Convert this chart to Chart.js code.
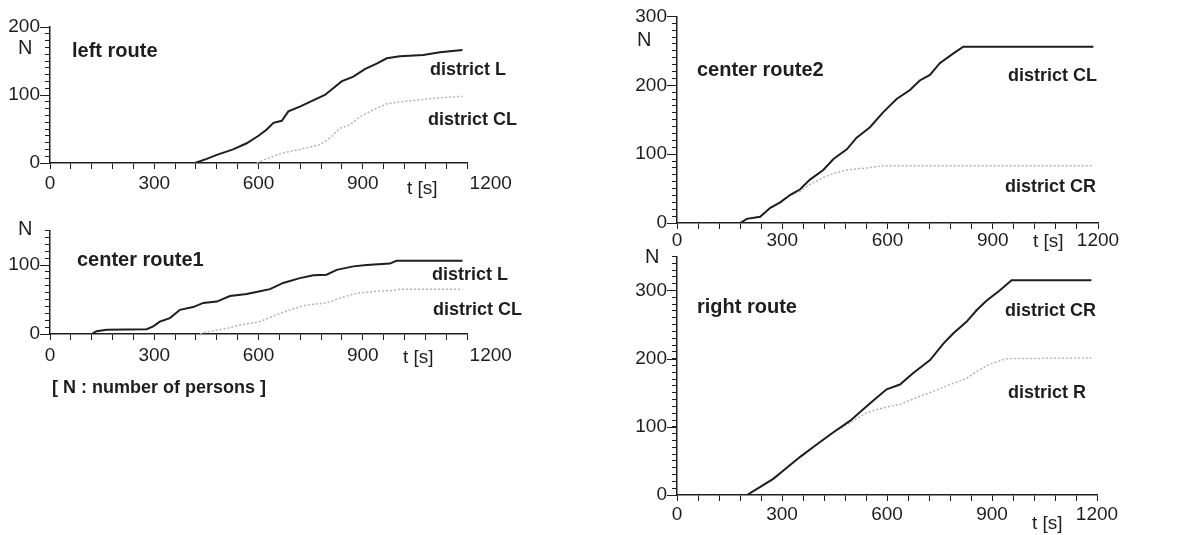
<!DOCTYPE html>
<html>
<head>
<meta charset="utf-8">
<script src="https://cdn.jsdelivr.net/npm/chart.js@4.4.1/dist/chart.umd.min.js"></script>
<style>
    body { margin: 0; background: #fff; }
    #wrap { position: relative; width: 1195px; height: 535px; background: #fff; }
    #wrap canvas { position: absolute; }
</style>
</head>
<body>
<div id="wrap">
    <canvas id="leftRoute" width="600" height="200" style="left:0;top:0"></canvas>
    <canvas id="centerRoute1" width="600" height="200" style="left:0;top:200px"></canvas>
    <canvas id="centerRoute2" width="595" height="260" style="left:600px;top:0"></canvas>
    <canvas id="rightRoute" width="595" height="295" style="left:600px;top:240px"></canvas>
</div>
<script>
// x axis: time in seconds, ticks every 60 s, labels every 300 s
var timeTicks = [0, 300, 600, 900, 1200];

// left route
var leftL_t = [417, 451, 480, 527, 566, 600, 623, 643, 667, 686, 719, 748, 791, 815, 839, 873, 906, 940, 969, 1007, 1074, 1122, 1187];
var leftL_n = [0, 6, 12, 20, 29, 40, 49, 59, 62, 76, 83, 90, 100, 110, 120, 127, 138, 146, 154, 157, 159, 163, 166];
var leftCL_t = [595, 623, 671, 719, 777, 806, 834, 863, 892, 930, 969, 1007, 1065, 1122, 1187];
var leftCL_n = [0, 6, 15, 20, 27, 37, 51, 56, 68, 78, 87, 90, 93, 96, 98];

// center route1
var center1L_t = [120, 134, 163, 278, 297, 316, 345, 374, 412, 441, 480, 518, 566, 604, 633, 671, 719, 758, 796, 825, 873, 911, 978, 997, 1187];
var center1L_n = [0, 4, 6, 7, 11, 18, 23, 35, 39, 45, 47, 55, 58, 62, 65, 74, 81, 85, 86, 93, 98, 100, 102, 106, 106];
var center1CL_t = [432, 451, 508, 547, 604, 643, 690, 738, 796, 834, 882, 940, 988, 1007, 1187];
var center1CL_n = [0, 3, 8, 13, 18, 26, 35, 42, 45, 52, 59, 62, 63, 65, 65];

// center route2
var center2CL_t = [180, 199, 237, 266, 294, 323, 351, 379, 417, 446, 484, 512, 550, 588, 626, 664, 692, 721, 749, 787, 816, 1187];
var center2CL_n = [0, 6, 9, 22, 30, 41, 49, 63, 77, 93, 107, 124, 139, 161, 180, 193, 207, 215, 232, 246, 256, 256];
var center2CR_t = [180, 199, 237, 266, 294, 323, 351, 379, 417, 446, 484, 541, 588, 1187];
var center2CR_n = [0, 6, 9, 22, 30, 40, 46, 56, 66, 72, 77, 80, 83, 83];

// right route
var rightCR_t = [176, 200, 238, 276, 304, 352, 399, 447, 495, 533, 571, 599, 637, 675, 723, 761, 789, 827, 856, 884, 922, 956, 1184];
var rightCR_n = [0, 0, 12, 24, 36, 56, 74, 92, 109, 126, 143, 155, 162, 179, 198, 222, 237, 254, 271, 285, 300, 315, 315];
var rightR_t = [176, 200, 238, 276, 304, 352, 399, 447, 466, 504, 542, 590, 637, 685, 732, 780, 827, 865, 894, 941, 1184];
var rightR_n = [0, 0, 12, 24, 36, 56, 74, 92, 97, 109, 121, 128, 133, 143, 152, 162, 171, 184, 192, 200, 201];

var FONT = '"Liberation Sans", Arial, sans-serif';
var INK = '#1e1e1e';

Chart.defaults.font.family = FONT;
Chart.defaults.color = INK;

function toPoints(ts, ns) {
    var pts = [];
    for (var i = 0; i < ts.length; i++) {
        pts.push({ x: ts[i], y: ns[i] });
    }
    return pts;
}

// texts on the panel + longer ticks at 100, 200, ...
var annotate = {
    id: 'annotate',
    afterDraw: function (chart, args, opts) {
        var ctx = chart.ctx;
        var area = chart.chartArea;
        var y = chart.scales.y;
        ctx.save();
        ctx.strokeStyle = INK;
        ctx.lineWidth = 1;
        y.ticks.forEach(function (t) {
            if (t.value % 100 === 0) {
                var py = Math.round(y.getPixelForValue(t.value)) + 0.5;
                ctx.beginPath();
                ctx.moveTo(area.left - 10, py);
                ctx.lineTo(area.left, py);
                ctx.stroke();
            }
        });
        ctx.fillStyle = INK;
        ctx.textBaseline = 'middle';
        ctx.textAlign = 'left';
        (opts.texts || []).forEach(function (tx) {
            ctx.font = (tx.bold ? 'bold ' : '') + tx.size + 'px ' + FONT;
            ctx.fillText(tx.text, tx.x, tx.y);
        });
        ctx.restore();
    }
};

function RenderPanel(id, panel, solid, dotted) {
    var canvas = document.getElementById(id);
    var w = canvas.width, h = canvas.height;
    var a = panel.area;
    new Chart(canvas.getContext('2d'), {
        type: 'line',
        data: {
            datasets: [{
                data: solid,
                borderColor: INK,
                borderWidth: 2,
                pointRadius: 0,
                tension: 0
            }, {
                data: dotted,
                borderColor: '#b4b4b4',
                borderWidth: 1.5,
                borderDash: [2, 2],
                pointRadius: 0,
                tension: 0
            }]
        },
        options: {
            responsive: false,
            animation: false,
            layout: {
                padding: { left: a.left - 45, top: a.top, right: w - a.right, bottom: h - a.bottom - 30 }
            },
            plugins: {
                legend: { display: false },
                tooltip: { enabled: false },
                annotate: { texts: panel.texts }
            },
            scales: {
                x: {
                    type: 'linear',
                    min: 0,
                    max: 1200,
                    afterFit: function (s) { s.height = 30; },
                    grid: { drawOnChartArea: false, tickLength: 6, tickColor: INK },
                    border: { color: INK, width: 1.5 },
                    ticks: {
                        stepSize: 60,
                        autoSkip: false,
                        maxRotation: 0,
                        minRotation: 0,
                        padding: panel.xPad,
                        font: { size: 19 },
                        callback: function (v) {
                            if (timeTicks.indexOf(v) < 0) return '';
                            if (v === 1200 && panel.shiftLast) return '         1200';
                            return String(v);
                        }
                    }
                },
                y: {
                    min: 0,
                    max: panel.yMax,
                    afterFit: function (s) { s.width = 45; },
                    grid: { drawOnChartArea: false, tickLength: 5, tickColor: INK },
                    border: { color: INK, width: 1.5 },
                    ticks: {
                        stepSize: 10,
                        autoSkip: false,
                        padding: 5,
                        font: { size: 19 },
                        callback: function (v) { return v % 100 === 0 ? String(v) : ''; }
                    }
                }
            }
        },
        plugins: [annotate]
    });
}

RenderPanel('leftRoute', {
    area: { left: 50, top: 27, right: 467, bottom: 163 },
    yMax: 200, xPad: 3, shiftLast: true,
    texts: [
        { text: 'N', x: 18, y: 48, size: 20 },
        { text: 'left route', x: 72, y: 51, size: 20, bold: true },
        { text: 'district L', x: 430, y: 70, size: 18, bold: true },
        { text: 'district CL', x: 428, y: 120, size: 18, bold: true },
        { text: 't [s]', x: 407, y: 189, size: 19 }
    ]
}, toPoints(leftL_t, leftL_n), toPoints(leftCL_t, leftCL_n));

RenderPanel('centerRoute1', {
    area: { left: 50, top: 30.5, right: 467, bottom: 134 },
    yMax: 150, xPad: 4, shiftLast: true,
    texts: [
        { text: 'N', x: 18, y: 29, size: 20 },
        { text: 'center route1', x: 77, y: 60, size: 20, bold: true },
        { text: 'district L', x: 432, y: 75, size: 18, bold: true },
        { text: 'district CL', x: 433, y: 110, size: 18, bold: true },
        { text: 't [s]', x: 403, y: 158, size: 19 },
        { text: '[ N : number of persons ]', x: 52, y: 188, size: 18, bold: true }
    ]
}, toPoints(center1L_t, center1L_n), toPoints(center1CL_t, center1CL_n));

RenderPanel('centerRoute2', {
    area: { left: 77, top: 16, right: 498, bottom: 223 },
    yMax: 300, xPad: 0, shiftLast: false,
    texts: [
        { text: 'N', x: 37, y: 40, size: 20 },
        { text: 'center route2', x: 97, y: 70, size: 20, bold: true },
        { text: 'district CL', x: 408, y: 76, size: 18, bold: true },
        { text: 'district CR', x: 405, y: 187, size: 18, bold: true },
        { text: 't [s]', x: 433, y: 242, size: 19 }
    ]
}, toPoints(center2CL_t, center2CL_n), toPoints(center2CR_t, center2CR_n));

RenderPanel('rightRoute', {
    area: { left: 77, top: 13.5, right: 497, bottom: 255 },
    yMax: 350, xPad: 2, shiftLast: false,
    texts: [
        { text: 'N', x: 45, y: 17, size: 20 },
        { text: 'right route', x: 97, y: 67, size: 20, bold: true },
        { text: 'district CR', x: 405, y: 71, size: 18, bold: true },
        { text: 'district R', x: 408, y: 153, size: 18, bold: true },
        { text: 't [s]', x: 432, y: 284, size: 19 }
    ]
}, toPoints(rightCR_t, rightCR_n), toPoints(rightR_t, rightR_n));
</script>
</body>
</html>
